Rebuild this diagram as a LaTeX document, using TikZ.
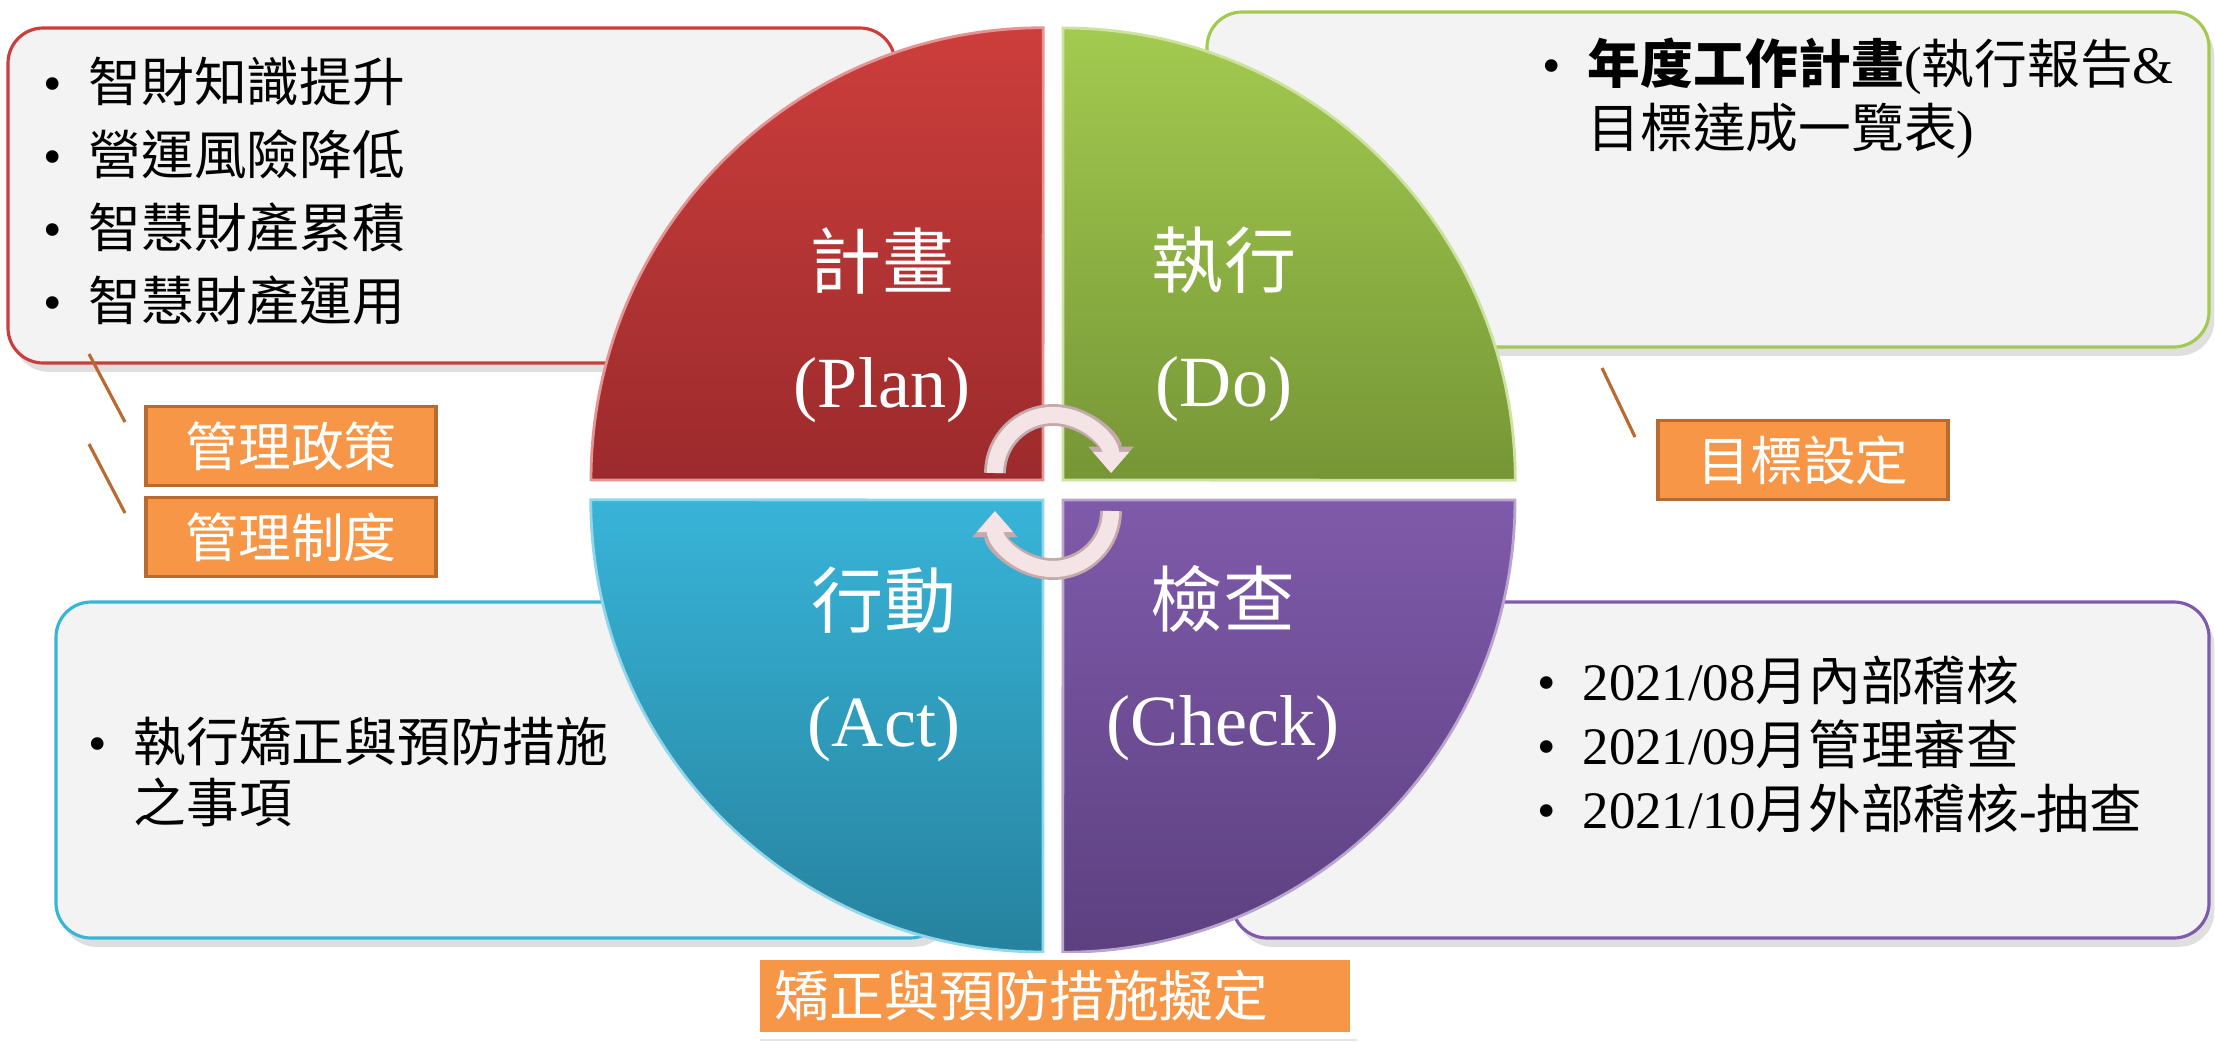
\documentclass[tikz,border=0pt]{standalone}
\usepackage{fontspec}
\setmainfont{Liberation Serif}
\newfontfamily\cjk{Noto Sans CJK TC}
\usetikzlibrary{arrows.meta,shadows}

\definecolor{planred}{RGB}{204,62,60}
\definecolor{planreddark}{RGB}{156,42,44}
\definecolor{dogreen}{RGB}{163,202,80}
\definecolor{dogreendark}{RGB}{118,150,54}
\definecolor{actcyan}{RGB}{56,180,216}
\definecolor{actcyandark}{RGB}{38,130,158}
\definecolor{checkpurple}{RGB}{127,90,170}
\definecolor{checkpurpledark}{RGB}{92,64,128}
\definecolor{boxgray}{RGB}{243,243,243}
\definecolor{tagorange}{RGB}{247,150,70}
\definecolor{tagbrown}{RGB}{184,106,48}
\definecolor{cyclepink}{RGB}{244,228,230}
\definecolor{cycleedge}{RGB}{196,170,172}

\newcommand{\zh}[1]{{\cjk #1}}
\newcommand{\blt}{\makebox[12.8pt][l]{\rmfamily •}}

\begin{document}
\begin{tikzpicture}[x=0.01cm, y=0.01cm,
    every node/.style={inner sep=0pt},
    listbox/.style={rounded corners=10pt, fill=boxgray, line width=0.9pt,
        drop shadow={shadow xshift=1.5pt, shadow yshift=-2.5pt, opacity=0.25}},
    quadrant/.style={line width=0.8pt},
    quadtext/.style={text=white, align=center, font=\fontsize{20.5}{33.9}\selectfont},
    listtext/.style={anchor=west, align=left, font=\fontsize{15}{#1}\selectfont},
    tag/.style={fill=tagorange, draw=tagbrown, line width=1.1pt, minimum width=2.9cm,
        minimum height=0.79cm, text=white, font=\cjk\fontsize{15}{18}\selectfont},
    leader/.style={draw=tagbrown, line width=0.9pt},
    cycleshade/.style={line width=6.2pt, draw=cycleedge, -{Triangle[width=12.5pt,length=7.5pt]}},
    cyclearrow/.style={line width=4.6pt, draw=cyclepink, -{Triangle[width=10pt,length=6pt]}}]
    \useasboundingbox (0,0) rectangle (2215,1041);

    % boxes behind the circle
    \draw[listbox, draw=planred] (8,678) rectangle (895,1013);
    \draw[listbox, draw=dogreen] (1207,694) rectangle (2209,1029);
    \draw[listbox, draw=actcyan] (56,103) rectangle (945,439);
    \draw[listbox, draw=checkpurple] (1232,103) rectangle (2209,439);

    % the four quarters
    \draw[quadrant, top color=planred, bottom color=planreddark, draw=planred!55!white]
        (1043,561) -- (591,561) arc[start angle=180, end angle=90, radius=4.52cm] -- cycle;
    \draw[quadrant, top color=dogreen, bottom color=dogreendark, draw=dogreen!55!white]
        (1063,561) -- (1063,1013) arc[start angle=90, end angle=0, radius=4.52cm] -- cycle;
    \draw[quadrant, top color=checkpurple, bottom color=checkpurpledark, draw=checkpurple!55!white]
        (1063,541) -- (1515,541) arc[start angle=0, end angle=-90, radius=4.52cm] -- cycle;
    \draw[quadrant, top color=actcyan, bottom color=actcyandark, draw=actcyan!55!white]
        (1043,541) -- (1043,89) arc[start angle=270, end angle=180, radius=4.52cm] -- cycle;

    \node[quadtext] (plan) at (882,716) {\zh{計畫}\\(Plan)};
    \node[quadtext] (do) at (1224,717) {\zh{執行}\\(Do)};
    \node[quadtext] (act) at (884,377) {\zh{行動}\\(Act)};
    \node[quadtext] (check) at (1223,378) {\zh{檢查}\\(Check)};

    % cycle arrows in the middle
    \coordinate (pdstart) at (995,568);
    \coordinate (castart) at (1111,530);
    \draw[cycleshade] (pdstart) arc[start angle=180, end angle=0, radius=0.58cm];
    \draw[cyclearrow] (pdstart) arc[start angle=180, end angle=0, radius=0.58cm];
    \draw[cycleshade] (castart) arc[start angle=0, end angle=-180, radius=0.58cm];
    \draw[cyclearrow] (castart) arc[start angle=0, end angle=-180, radius=0.58cm];

    % box texts
    \node[listtext=20.7] (plantext) at (43,850)
        {\blt\zh{智財知識提升}\\ \blt\zh{營運風險降低}\\ \blt\zh{智慧財產累積}\\ \blt\zh{智慧財產運用}};
    \node[listtext=18.2] (dotext) at (1542,943)
        {\blt\zh{\bfseries 年度工作計畫}(\zh{執行報告}\&\\ \hspace*{12.8pt}\zh{目標達成一覽表})};
    \node[listtext=17.4] (acttext) at (88,269)
        {\blt\zh{執行矯正與預防措施}\\ \hspace*{12.8pt}\zh{之事項}};
    \node[listtext=18.2] (checktext) at (1537,297)
        {\blt 2021/08\zh{月內部稽核}\\ \blt 2021/09\zh{月管理審查}\\ \blt 2021/10\zh{月外部稽核}-\zh{抽查}};

    % tags
    \node[tag] (policy) at (291,595) {管理政策};
    \node[tag] (rules) at (291,504) {管理制度};
    \node[tag] (goal) at (1803,581) {目標設定};
    \node[tag, draw=white, line width=2pt, text width=5.6cm, inner xsep=0.18cm, align=left,
        font=\cjk\fontsize{15.6}{18}\selectfont,
        drop shadow={shadow xshift=1pt, shadow yshift=-1.5pt, opacity=0.2}] (fix) at (1055,45) {矯正與預防措施擬定};

    \coordinate (l1a) at (89,687);
    \coordinate (l1b) at (125,619);
    \coordinate (l2a) at (89,597);
    \coordinate (l2b) at (125,528);
    \coordinate (l3a) at (1602,673);
    \coordinate (l3b) at (1635,604);
    \draw[leader] (l1a) -- (l1b);
    \draw[leader] (l2a) -- (l2b);
    \draw[leader] (l3a) -- (l3b);
\end{tikzpicture}
\end{document}
